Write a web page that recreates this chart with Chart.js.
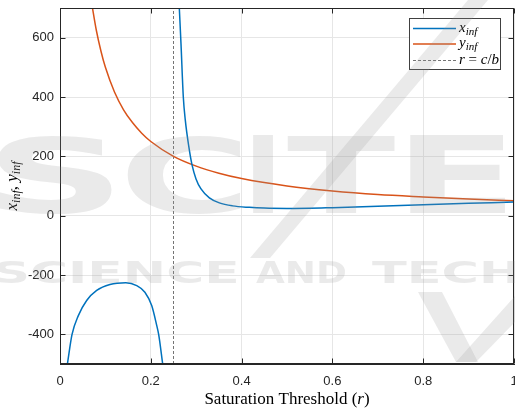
<!DOCTYPE html>
<html>
<head>
<meta charset="utf-8">
<script src="https://cdn.jsdelivr.net/npm/chart.js@4.4.1/dist/chart.umd.min.js"></script>
<style>
  html, body { margin: 0; padding: 0; background: #fff; }
  #wrap { width: 515px; height: 410px; }
</style>
</head>
<body>
<div id="wrap"><canvas id="chart" width="515" height="410"></canvas></div>
<script>
(function () {
    "use strict";

    /* x_inf, left branch (r below the pole) */
    const rLeft = [0.0163, 0.0264, 0.0404, 0.0587, 0.0808, 0.110, 0.145, 0.169, 0.187, 0.202, 0.213, 0.2174, 0.2262];
    const xLeft = [-500, -401, -337, -286, -252, -232, -226, -236, -258, -303, -370, -401, -500];

    /* x_inf, right branch */
    const rRight = [0.2628, 0.2665, 0.2716, 0.2760, 0.2834, 0.2907, 0.2996, 0.3106, 0.329, 0.351, 0.380, 0.417, 0.45, 0.5, 0.55, 0.6, 0.7, 0.8, 0.9, 1.0];
    const xRight = [700, 580, 400, 322, 236, 172, 124, 90, 60, 43, 33, 28, 25.5, 24.5, 25, 27, 31.5, 37, 41.5, 46];

    /* y_inf */
    const rY = [0.07, 0.08, 0.09, 0.1, 0.12, 0.14, 0.16, 0.18, 0.2, 0.25, 0.3, 0.35, 0.4, 0.5, 0.6, 0.7, 0.8, 0.9, 1.0];
    const yInf = [714, 625, 556, 500, 417, 357, 313, 278, 250, 200, 167, 143, 125, 100, 83, 71, 63, 56, 50];

    const rThreshold = 0.25;
    const xTicks = [0, 0.2, 0.4, 0.6, 0.8, 1];
    const yTicks = [-400, -200, 0, 200, 400, 600];
    const xRange = [0, 1];
    const yRange = [-500, 700];

    const blue = '#0072BD';
    const orange = '#D95319';
    const axisColor = '#262626';
    const dashColor = 'rgba(70,70,70,0.75)';
    const serif = '"Liberation Serif", "DejaVu Serif", serif';

    const pts = (xs, ys) => xs.map((x, i) => ({ x: x, y: ys[i] }));

    // draw a run of text pieces (for sub-scripts / italics), centred on x
    function drawParts(ctx, parts, x, y) {
        let w = 0;
        parts.forEach(p => { ctx.font = p.f; w += ctx.measureText(p.t).width; });
        let cx = x - w / 2;
        parts.forEach(p => {
            ctx.font = p.f;
            ctx.fillText(p.t, cx, y + (p.dy || 0));
            cx += ctx.measureText(p.t).width;
        });
    }

    function drawLeft(ctx, parts, x, y) {
        let cx = x;
        parts.forEach(p => {
            ctx.font = p.f;
            ctx.fillText(p.t, cx, y + (p.dy || 0));
            cx += ctx.measureText(p.t).width;
        });
    }

    const it = s => 'italic ' + s + 'px ' + serif;
    const up = s => s + 'px ' + serif;

    const frame = {
        id: 'frame',
        afterDatasetsDraw(chart) {
            const ctx = chart.ctx;
            const a = chart.chartArea;
            const xs = chart.scales.x, ys = chart.scales.y;
            const L = Math.round(a.left) + 0.5, R = Math.round(a.right) - 0.5;
            const T = Math.round(a.top) + 0.5, B = Math.round(a.bottom) - 0.5;
            ctx.save();
            ctx.strokeStyle = axisColor;
            ctx.lineWidth = 1;
            ctx.strokeRect(L, T, R - L, B - T);
            // inward ticks on all four sides
            ctx.beginPath();
            xTicks.forEach(v => {
                const px = Math.round(xs.getPixelForValue(v)) + 0.5;
                ctx.moveTo(px, B); ctx.lineTo(px, B - 5);
                ctx.moveTo(px, T); ctx.lineTo(px, T + 5);
            });
            yTicks.forEach(v => {
                const py = Math.round(ys.getPixelForValue(v)) + 0.5;
                ctx.moveTo(L, py); ctx.lineTo(L + 5, py);
                ctx.moveTo(R, py); ctx.lineTo(R - 5, py);
            });
            ctx.stroke();
            ctx.restore();
        },
        afterDraw(chart) {
            const ctx = chart.ctx;
            const a = chart.chartArea;
            ctx.save();
            ctx.fillStyle = '#000';
            ctx.textBaseline = 'alphabetic';

            // axis titles
            drawParts(ctx, [
                { t: 'Saturation Threshold (', f: up(17) },
                { t: 'r', f: it(17) },
                { t: ')', f: up(17) }
            ], (a.left + a.right) / 2, 404);

            ctx.save();
            ctx.translate(17, (a.top + a.bottom) / 2);
            ctx.rotate(-Math.PI / 2);
            drawParts(ctx, [
                { t: 'x', f: it(17) },
                { t: 'inf', f: it(12), dy: 3 },
                { t: ', ', f: up(17) },
                { t: 'y', f: it(17) },
                { t: 'inf', f: it(12), dy: 3 }
            ], 0, 0);
            ctx.restore();

            // legend
            const bx = 409.5, by = 18.5, bw = 91, bh = 51;
            ctx.fillStyle = '#fff';
            ctx.fillRect(bx, by, bw, bh);
            ctx.strokeStyle = '#404040';
            ctx.lineWidth = 1;
            ctx.strokeRect(bx, by, bw, bh);
            const rows = [
                { c: blue, dash: [], lw: 1.5, y: 28.5, parts: [{ t: 'x', f: it(15) }, { t: 'inf', f: it(11), dy: 3 }] },
                { c: orange, dash: [], lw: 1.5, y: 44, parts: [{ t: 'y', f: it(15) }, { t: 'inf', f: it(11), dy: 3 }] },
                { c: dashColor, dash: [3, 2], lw: 1, y: 60.5, parts: [{ t: 'r', f: it(15) }, { t: ' = ', f: up(15) }, { t: 'c', f: it(15) }, { t: '/', f: up(15) }, { t: 'b', f: it(15) }] }
            ];
            rows.forEach(row => {
                ctx.beginPath();
                ctx.strokeStyle = row.c;
                ctx.lineWidth = row.lw;
                ctx.setLineDash(row.dash);
                ctx.moveTo(413, row.y);
                ctx.lineTo(456, row.y);
                ctx.stroke();
                ctx.setLineDash([]);
                ctx.fillStyle = '#000';
                drawLeft(ctx, row.parts, 459, row.y + 3);
            });
            ctx.restore();

            drawWatermark(ctx);
        }
    };

    // faint publisher mark laid over the figure
    function drawWatermark(ctx) {
        ctx.save();
        ctx.fillStyle = 'rgba(150,150,150,0.2)';
        ctx.textBaseline = 'alphabetic';

        ctx.font = 'bold 100px "DejaVu Sans"';
        [['S', -2, 112], ['C', 126, 240], ['I', 253, 273], ['T', 287, 395], ['E', 410, 505]].forEach(l => {
            const m = ctx.measureText(l[0]);
            const ink = m.actualBoundingBoxLeft + m.actualBoundingBoxRight;
            const sy = 78 / (m.actualBoundingBoxAscent + m.actualBoundingBoxDescent);
            ctx.save();
            ctx.translate(l[1], 213);
            ctx.scale((l[2] - l[1]) / ink, sy);
            ctx.fillText(l[0], m.actualBoundingBoxLeft, 0);
            ctx.restore();
        });

        ctx.font = 'bold 31px "DejaVu Sans"';
        [['SCIENCE', -4, 236], ['AND', 256, 346], ['TECHNOLOGY', 372, 760]].forEach(w => {
            const m = ctx.measureText(w[0]);
            const ink = m.actualBoundingBoxLeft + m.actualBoundingBoxRight;
            ctx.save();
            ctx.translate(w[1], 283);
            ctx.scale((w[2] - w[1]) / ink, 1);
            ctx.fillText(w[0], m.actualBoundingBoxLeft, 0);
            ctx.restore();
        });

        const band = (p) => {
            ctx.beginPath();
            ctx.moveTo(p[0][0], p[0][1]);
            for (let i = 1; i < p.length; i++) ctx.lineTo(p[i][0], p[i][1]);
            ctx.closePath();
            ctx.fill();
        };
        band([[468, 0], [488, 0], [270, 258], [250, 258]]);
        band([[418, 292], [442, 292], [478, 362], [456, 362]]);
        band([[515, 296], [515, 322], [476, 362], [456, 362]]);
        ctx.restore();
    }

    const data = {
        datasets: [{
            label: 'x_inf',
            data: pts(rLeft, xLeft),
            borderColor: blue,
            borderWidth: 1.5,
            pointRadius: 0,
            cubicInterpolationMode: 'monotone'
        }, {
            label: 'x_inf (r > c/b)',
            data: pts(rRight, xRight),
            borderColor: blue,
            borderWidth: 1.5,
            pointRadius: 0,
            cubicInterpolationMode: 'monotone'
        }, {
            label: 'y_inf',
            data: pts(rY, yInf),
            borderColor: orange,
            borderWidth: 1.5,
            pointRadius: 0,
            cubicInterpolationMode: 'monotone'
        }, {
            label: 'r = c/b',
            data: [{ x: rThreshold, y: yRange[0] }, { x: rThreshold, y: yRange[1] }],
            borderColor: dashColor,
            borderWidth: 1,
            borderDash: [3, 2],
            pointRadius: 0
        }]
    };

    const config = {
        type: 'line',
        data: data,
        options: {
            responsive: false,
            animation: false,
            devicePixelRatio: 1,
            layout: { padding: { top: 8, right: 1, left: 0, bottom: 0 } },
            plugins: {
                legend: { display: false },
                tooltip: { enabled: false }
            },
            scales: {
                x: {
                    type: 'linear',
                    min: xRange[0],
                    max: xRange[1],
                    afterFit: s => { s.height = 46; s.paddingLeft = 0; s.paddingRight = 0; },
                    afterBuildTicks: s => { s.ticks = xTicks.map(v => ({ value: v })); },
                    grid: { color: '#e6e6e6', drawTicks: false },
                    border: { color: axisColor },
                    ticks: {
                        padding: 10,
                        color: axisColor,
                        maxRotation: 0,
                        font: { family: '"Liberation Sans", Arial, sans-serif', size: 13 },
                        callback: v => String(v)
                    }
                },
                y: {
                    type: 'linear',
                    min: yRange[0],
                    max: yRange[1],
                    afterFit: s => { s.width = 60; s.paddingTop = 0; s.paddingBottom = 0; },
                    afterBuildTicks: s => { s.ticks = yTicks.map(v => ({ value: v })); },
                    grid: { color: '#e6e6e6', drawTicks: false },
                    border: { color: axisColor },
                    ticks: {
                        padding: 6,
                        color: axisColor,
                        font: { family: '"Liberation Sans", Arial, sans-serif', size: 13 },
                        callback: v => String(v)
                    }
                }
            }
        },
        plugins: [frame]
    };

    new Chart(document.getElementById('chart'), config);
})();
</script>
</body>
</html>
